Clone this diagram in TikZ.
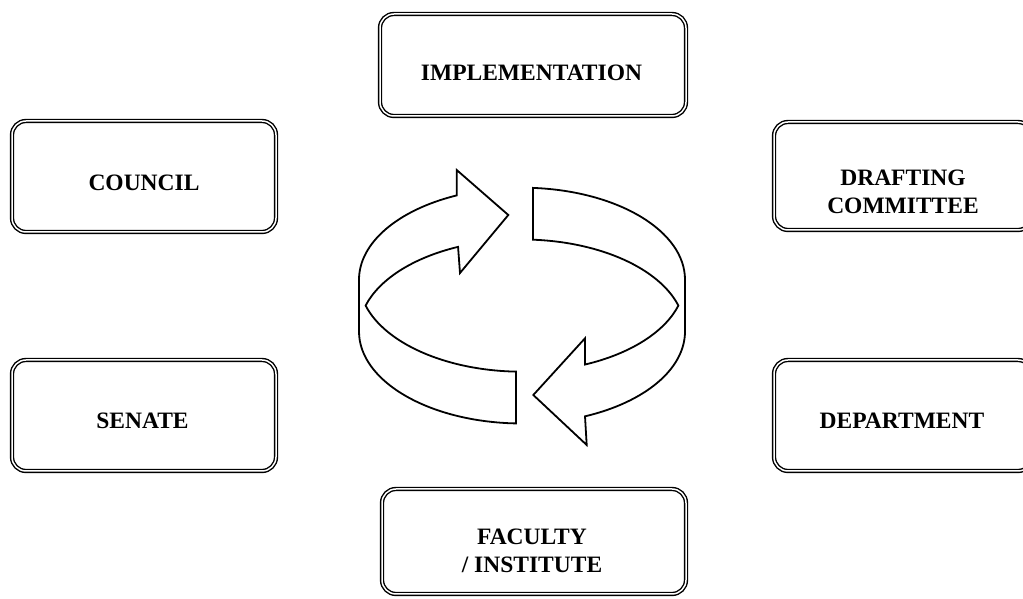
\documentclass[tikz,border=0pt]{standalone}
\usepackage{fontspec}
\setmainfont{Liberation Serif}
\begin{document}
\begin{tikzpicture}[x=1pt,y=1pt,
  box/.style={draw,double,double distance=1.5pt,line width=1.4pt,rounded corners=14pt},
  lbl/.style={font=\fontsize{23.5}{28}\selectfont\bfseries,align=center},
  band/.style={line width=1.8pt},
  ell/.style={x radius=163,y radius=92}]
\useasboundingbox (0,0) rectangle (1023,599);
\clip (0,0) rectangle (1023,599);

% boxes
\node[box,minimum width=264pt,minimum height=111pt] (council) at (144,422.5) {};
\node[box,minimum width=306pt,minimum height=102pt] (impl) at (533,534) {};
\node[box,minimum width=258pt,minimum height=108pt] (draft) at (903,423) {};
\node[box,minimum width=264pt,minimum height=111pt] (senate) at (144,183.5) {};
\node[box,minimum width=258pt,minimum height=111pt] (dept) at (903,183.5) {};
\node[box,minimum width=304pt,minimum height=105pt] (faculty) at (534,57.5) {};

\node[lbl] (councilt) at ([yshift=-6pt]council.center) {COUNCIL};
\node[lbl] (implt) at ([xshift=-1.5pt,yshift=-7.5pt]impl.center) {IMPLEMENTATION};
\node[lbl] (draftt) at ([yshift=-16pt]draft.center) {DRAFTING\\COMMITTEE};
\node[lbl] (senatet) at ([xshift=-1.5pt,yshift=-5pt]senate.center) {SENATE};
\node[lbl] (deptt) at ([xshift=-1pt,yshift=-5pt]dept.center) {DEPARTMENT};
\node[lbl] (facultyt) at ([xshift=-2pt,yshift=-9.5pt]faculty.center) {FACULTY\\/ INSTITUTE};

% ring of two arrows
\coordinate (c1) at (522,319.3);
\coordinate (c2) at (522,267.5);
\draw[band] ([shift={(c1)}]113.6:163 and 92) arc[start angle=113.6,end angle=180,ell]
  -- ([shift={(c2)}]180:163 and 92) arc[start angle=180,end angle=267.9,ell]
  -- ([shift={(c1)}]267.9:163 and 92) arc[start angle=267.9,end angle=196.35,ell]
  arc[start angle=163.65,end angle=113.1,ell]
  -- (460,326) -- (508.3,384) -- (456.7,429) -- cycle;
\draw[band] ([shift={(c1)}]86.1:163 and 92) arc[start angle=86.1,end angle=0,ell]
  -- ([shift={(c2)}]0:163 and 92) arc[start angle=0,end angle=-67.26,ell]
  -- (586.7,154) -- (533.3,204) -- (585,260.7)
  -- ([shift={(c1)}]-67.26:163 and 92) arc[start angle=-67.26,end angle=-16.35,ell]
  arc[start angle=16.35,end angle=86.1,ell] -- cycle;
\end{tikzpicture}
\end{document}
